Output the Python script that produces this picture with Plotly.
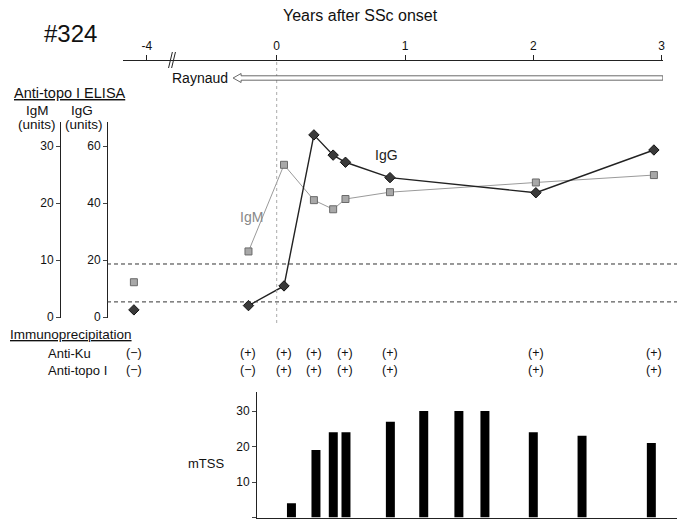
import plotly.graph_objects as go

# ---------------- data ----------------
elisa_years = [-4.1, -0.22, 0.057, 0.29, 0.44, 0.536, 0.883, 2.02, 2.94]
igm_units = [6.1, 11.5, 26.7, 20.5, 18.9, 20.7, 21.9, 23.6, 24.9]
igg_units = [2.5, 4.0, 10.9, 63.9, 56.8, 54.3, 48.9, 43.6, 58.6]
igg_cutoffs = [18.6, 5.3]

ip_years = [-4.1, -0.22, 0.057, 0.29, 0.536, 0.883, 2.02, 2.94]
anti_ku = ["(\u2212)", "(+)", "(+)", "(+)", "(+)", "(+)", "(+)", "(+)"]
anti_topo = ["(\u2212)", "(\u2212)", "(+)", "(+)", "(+)", "(+)", "(+)", "(+)"]

mtss_years = [0.115, 0.306, 0.441, 0.54, 0.886, 1.146, 1.42, 1.623, 2.0, 2.38, 2.92]
mtss_values = [4, 19, 24, 24, 27, 30, 30, 30, 24, 23, 21]

year_ticks = [-4, 0, 1, 2, 3]
year_tick_labels = ["-4", "0", "1", "2", "3"]
raynaud_span = [-0.34, 3.01]

# ---------------- geometry helpers ----------------
W, H = 677, 520
X0_PX, PX_PER_YEAR = 276.7, 128.3
BREAK_SHIFT = 4 - 1.013  # compressed axis before the break


def disp(t):
    return t if t > -1 else t + BREAK_SHIFT


def xr(a_px, b_px):
    return [(a_px - X0_PX) / PX_PER_YEAR, (b_px - X0_PX) / PX_PER_YEAR]


def px(x):
    return x / W


def py(y):
    return 1 - y / H


FONT = "Liberation Sans, Arial, sans-serif"

fig = go.Figure()

# ELISA lines (pre-break point not connected)
ex = [disp(elisa_years[0]), None] + [disp(t) for t in elisa_years[1:]]
igm_y = [igm_units[0], None] + igm_units[1:]
igg_y = [igg_units[0], None] + igg_units[1:]

fig.add_trace(go.Scatter(
    x=ex, y=igm_y, xaxis="x3", yaxis="y", mode="lines+markers",
    line=dict(color="#9a9a9a", width=1),
    marker=dict(symbol="square", size=7, color="#a8a8a8",
                line=dict(color="#6a6a6a", width=1)),
    connectgaps=False, showlegend=False, hoverinfo="skip"))

fig.add_trace(go.Scatter(
    x=ex, y=igg_y, xaxis="x3", yaxis="y2", mode="lines+markers",
    line=dict(color="#222222", width=1.4),
    marker=dict(symbol="diamond", size=8, color="#3a3a3a",
                line=dict(color="#111111", width=1)),
    connectgaps=False, showlegend=False, hoverinfo="skip"))

# mTSS bars
fig.add_trace(go.Bar(
    x=[disp(t) for t in mtss_years], y=mtss_values, xaxis="x2", yaxis="y3",
    width=0.07, marker=dict(color="#000000", line=dict(width=0)),
    showlegend=False, hoverinfo="skip"))

fig.update_layout(
    width=W, height=H, autosize=False,
    margin=dict(l=0, r=0, t=0, b=0, autoexpand=False),
    paper_bgcolor="white", plot_bgcolor="rgba(0,0,0,0)",
    font=dict(family=FONT, size=12, color="#111111"),
    xaxis=dict(domain=[px(123), px(663)], range=xr(123, 663), side="top",
               anchor="free", position=py(60), showline=True,
               linecolor="#222222", linewidth=1, ticks="outside", ticklen=5,
               tickcolor="#222222", tickvals=[disp(t) for t in year_ticks],
               ticktext=year_tick_labels, showgrid=False, zeroline=False,
               tickfont=dict(size=12), fixedrange=True),
    xaxis2=dict(domain=[px(257), 1], range=xr(257, 677), anchor="y3",
                showline=True, linecolor="#222222", linewidth=1,
                showticklabels=False, ticks="", showgrid=False,
                zeroline=False),
    xaxis3=dict(domain=[0, 1], range=xr(0, 677), anchor="free",
                position=0, visible=False),
    yaxis=dict(domain=[py(318), py(122)], range=[(317 - 318) / 5.7, (317 - 122) / 5.7],
               anchor="free", position=px(60), showline=True,
               linecolor="#222222", linewidth=1, ticks="outside", ticklen=4,
               tickvals=[0, 10, 20, 30], showgrid=False, zeroline=False,
               tickfont=dict(size=12)),
    yaxis2=dict(domain=[py(318), py(122)], range=[2 * (317 - 318) / 5.7, 2 * (317 - 122) / 5.7],
                overlaying="y", anchor="free", position=px(107), side="left",
                showline=True, linecolor="#222222", linewidth=1,
                ticks="outside", ticklen=4, tickvals=[0, 20, 40, 60],
                showgrid=False, zeroline=False, tickfont=dict(size=12)),
    yaxis3=dict(domain=[py(517.5), py(391.7)], range=[0, (517.5 - 391.7) / 3.55],
                anchor="x2", showline=True, linecolor="#222222", linewidth=1,
                ticks="outside", ticklen=4, tickvals=[0, 10, 20, 30],
                showgrid=False, zeroline=False, tickfont=dict(size=12)),
)

shapes = []
# cutoff dashed lines
for c in igg_cutoffs:
    shapes.append(dict(type="line", xref="paper", yref="y2", x0=px(107), x1=1,
                       y0=c, y1=c, line=dict(color="#333333", width=1, dash="4px,3px")))
# vertical dotted line at onset
shapes.append(dict(type="line", xref="x", yref="paper", x0=0, x1=0,
                   y0=py(62), y1=py(323), line=dict(color="#aaaaaa", width=1, dash="dot")))
# axis break marks
bx = (172 - X0_PX) / PX_PER_YEAR
for dx in (-0.012, 0.012):
    shapes.append(dict(type="line", xref="x", yref="paper",
                       x0=bx + dx - 0.015, x1=bx + dx + 0.015,
                       y0=py(68), y1=py(52), line=dict(color="#222222", width=1)))
# Raynaud hollow arrow
t0, t1 = disp(raynaud_span[0]), disp(raynaud_span[1])
hl = 8 / PX_PER_YEAR
yc = 78
path = (f"M {t0},{py(yc)} L {t0 + hl},{py(yc - 4.5)} L {t0 + hl},{py(yc - 2.2)} "
        f"L {t1},{py(yc - 2.2)} L {t1},{py(yc + 2.2)} L {t0 + hl},{py(yc + 2.2)} "
        f"L {t0 + hl},{py(yc + 4.5)} Z")
shapes.append(dict(type="path", xref="x", yref="paper", path=path,
                   line=dict(color="#444444", width=0.8), fillcolor="white"))
fig.update_layout(shapes=shapes)

ann = []


def A(x, y, text, size=12, color="#111111", xanchor="center"):
    ann.append(dict(x=px(x), y=py(y), xref="paper", yref="paper", text=text,
                    showarrow=False, xanchor=xanchor, yanchor="middle",
                    font=dict(size=size, color=color, family=FONT)))


A(42, 33, "#324", size=24, xanchor="left")
A(360, 15, "Years after SSc onset", size=16)
A(170, 78, "Raynaud", size=14, xanchor="left")
A(12, 93, "<u>Anti-topo I ELISA</u>", size=14.5, xanchor="left")
A(37, 110, "IgM", size=13.5)
A(37, 124, "(units)", size=13.5)
A(82, 110, "IgG", size=13.5)
A(84, 124, "(units)", size=13.5)
A(251, 217, "IgM", size=14, color="#888888")
A(386, 155, "IgG", size=14, color="#222222")
A(8, 334, "<u>Immunoprecipitation</u>", size=13.5, xanchor="left")
A(46, 353, "Anti-Ku", size=13, xanchor="left")
A(46, 370, "Anti-topo I", size=13, xanchor="left")
A(206, 463, "mTSS", size=13)
fig.update_layout(annotations=ann)

# immunoprecipitation results placed on the data x axis
for t, ku, tp in zip(ip_years, anti_ku, anti_topo):
    fig.add_annotation(x=disp(t), y=py(353), xref="x3", yref="paper", text=ku,
                       showarrow=False, yanchor="middle", xanchor="center",
                       font=dict(size=12.5, family=FONT, color="#111111"))
    fig.add_annotation(x=disp(t), y=py(370), xref="x3", yref="paper", text=tp,
                       showarrow=False, yanchor="middle", xanchor="center",
                       font=dict(size=12.5, family=FONT, color="#111111"))

fig.write_html("out.html",
               config={"responsive": False, "displayModeBar": False},
               post_script="document.body.style.margin='0';document.body.style.overflow='hidden';")
